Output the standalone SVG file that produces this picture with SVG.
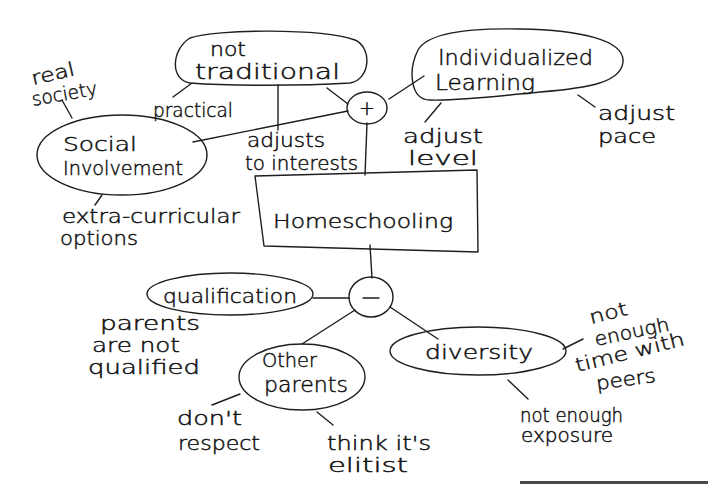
<svg xmlns="http://www.w3.org/2000/svg" width="726" height="484" viewBox="0 0 726 484">
<style>
.s{fill:none;stroke:#1e1e1e;stroke-width:1.4;stroke-linecap:round;stroke-linejoin:round}
text{font-family:"DejaVu Sans","Liberation Sans",sans-serif;font-weight:300;fill:#111;stroke:#111;stroke-width:0.45;font-size:19px}
.n{font-size:21px}
</style>
<rect width="726" height="484" fill="#fff"/>
<g id="connectors" class="s">
<line x1="62" y1="100" x2="72" y2="118"/>
<line x1="173" y1="97" x2="192" y2="83"/>
<line x1="193" y1="142" x2="348" y2="111"/>
<line x1="278" y1="85" x2="278" y2="130"/>
<line x1="327" y1="88" x2="348" y2="104"/>
<line x1="389" y1="99" x2="424" y2="76"/>
<line x1="367" y1="123" x2="365" y2="175"/>
<line x1="441" y1="103" x2="425" y2="122"/>
<line x1="578" y1="95" x2="595" y2="107"/>
<line x1="102" y1="195" x2="95" y2="205"/>
<line x1="370" y1="245" x2="372" y2="278"/>
<line x1="313" y1="298" x2="349" y2="298"/>
<line x1="355" y1="310" x2="302" y2="344"/>
<line x1="390" y1="307" x2="438" y2="339"/>
<line x1="212" y1="405" x2="240" y2="394"/>
<line x1="317" y1="412" x2="333" y2="425"/>
<line x1="563" y1="349" x2="583" y2="339"/>
<line x1="508" y1="380" x2="528" y2="399"/>
</g>
<g id="not-traditional">
<path class="s" d="M190 83 C170 80 171 50 190 38 C215 29 320 28 355 40 C373 48 370 80 350 83 C300 86 230 86 190 83 Z"/>
<text x="210" y="56" font-size="20" textLength="36" lengthAdjust="spacingAndGlyphs">not</text>
<text x="195" y="79" class="n" textLength="145" lengthAdjust="spacingAndGlyphs">traditional</text>
</g>
<g id="individualized-learning">
<path class="s" d="M430 100 C410 100 408 70 418 50 C428 32 470 28 520 29 C580 30 625 40 623 62 C621 82 590 88 540 92 C500 96 460 101 430 100 Z"/>
<text x="438" y="65" class="n" textLength="155" lengthAdjust="spacingAndGlyphs">Individualized</text>
<text x="435" y="90" class="n" textLength="100" lengthAdjust="spacingAndGlyphs">Learning</text>
</g>
<g id="plus">
<ellipse class="s" cx="367" cy="108" rx="20" ry="16"/>
<text x="367" y="115" text-anchor="middle" font-size="20">+</text>
</g>
<g id="social-involvement">
<ellipse class="s" cx="122" cy="155" rx="85" ry="40"/>
<text x="63" y="151" font-size="20" textLength="74" lengthAdjust="spacingAndGlyphs">Social</text>
<text x="63" y="175" font-size="20" textLength="120" lengthAdjust="spacingAndGlyphs">Involvement</text>
</g>
<g id="homeschooling">
<polygon class="s" points="255,176 477,170 478,252 264,246"/>
<text x="273" y="228" font-size="36" textLength="180" lengthAdjust="spacingAndGlyphs">Homeschooling</text>
</g>
<g id="minus">
<ellipse class="s" cx="371" cy="297" rx="22" ry="20"/>
<line class="s" x1="363" y1="298" x2="379" y2="298"/>
</g>
<g id="qualification">
<ellipse class="s" cx="230" cy="294" rx="83" ry="21"/>
<text x="163" y="303" font-size="22" textLength="134" lengthAdjust="spacingAndGlyphs">qualification</text>
</g>
<g id="other-parents">
<ellipse class="s" cx="302" cy="377" rx="63" ry="33"/>
<text x="262" y="367" font-size="20" textLength="55" lengthAdjust="spacingAndGlyphs">Other</text>
<text x="264" y="392" class="n" textLength="84" lengthAdjust="spacingAndGlyphs">parents</text>
</g>
<g id="diversity">
<ellipse class="s" cx="478" cy="351" rx="88" ry="24"/>
<text x="425" y="359" font-size="23" textLength="108" lengthAdjust="spacingAndGlyphs">diversity</text>
</g>
<g id="labels">
<text transform="translate(33,85) rotate(-13)" textLength="44" lengthAdjust="spacingAndGlyphs">real</text>
<text transform="translate(33,106) rotate(-10)" textLength="66" lengthAdjust="spacingAndGlyphs">society</text>
<text x="153" y="117" textLength="80" lengthAdjust="spacingAndGlyphs">practical</text>
<text x="247" y="147" textLength="78" lengthAdjust="spacingAndGlyphs">adjusts</text>
<text x="245" y="170" textLength="113" lengthAdjust="spacingAndGlyphs">to interests</text>
<text x="403" y="143" textLength="80" lengthAdjust="spacingAndGlyphs">adjust</text>
<text x="408" y="165" textLength="70" lengthAdjust="spacingAndGlyphs">level</text>
<text x="598" y="120" textLength="77" lengthAdjust="spacingAndGlyphs">adjust</text>
<text x="598" y="143" textLength="58" lengthAdjust="spacingAndGlyphs">pace</text>
<text x="62" y="223" textLength="178" lengthAdjust="spacingAndGlyphs">extra-curricular</text>
<text x="60" y="245" font-size="18" textLength="78" lengthAdjust="spacingAndGlyphs">options</text>
<text x="100" y="330" textLength="100" lengthAdjust="spacingAndGlyphs">parents</text>
<text x="92" y="352" textLength="88" lengthAdjust="spacingAndGlyphs">are not</text>
<text x="88" y="374" textLength="112" lengthAdjust="spacingAndGlyphs">qualified</text>
<text x="177" y="425" textLength="65" lengthAdjust="spacingAndGlyphs">don't</text>
<text x="178" y="450" textLength="82" lengthAdjust="spacingAndGlyphs">respect</text>
<text x="327" y="450" textLength="104" lengthAdjust="spacingAndGlyphs">think it's</text>
<text x="328" y="472" textLength="80" lengthAdjust="spacingAndGlyphs">elitist</text>
<text transform="translate(591,324) rotate(-14)" textLength="39" lengthAdjust="spacingAndGlyphs">not</text>
<text transform="translate(596,346) rotate(-12)" textLength="76" lengthAdjust="spacingAndGlyphs">enough</text>
<text transform="translate(577,372) rotate(-14)" textLength="112" lengthAdjust="spacingAndGlyphs">time with</text>
<text transform="translate(597,390) rotate(-8)" textLength="60" lengthAdjust="spacingAndGlyphs">peers</text>
<text x="520" y="422" textLength="103" lengthAdjust="spacingAndGlyphs">not enough</text>
<text x="521" y="442" textLength="92" lengthAdjust="spacingAndGlyphs">exposure</text>
</g>
<rect x="520" y="481" width="188" height="3" fill="#4a4a4a"/>
</svg>
